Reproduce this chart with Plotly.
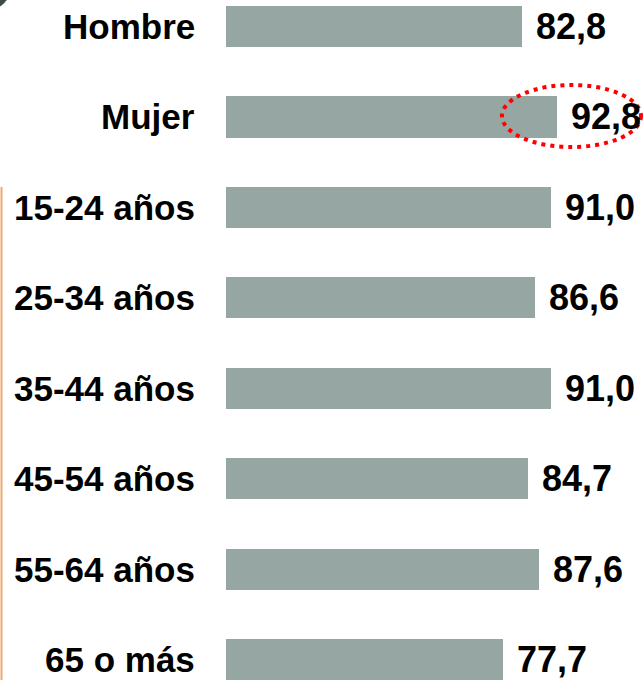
import plotly.graph_objects as go

categories = ["Hombre", "Mujer", "15-24 años", "25-34 años", "35-44 años",
              "45-54 años", "55-64 años", "65 o más"]
values = [82.8, 92.8, 91.0, 86.6, 91.0, 84.7, 87.6, 77.7]
value_labels = ["82,8", "92,8", "91,0", "86,6", "91,0", "84,7", "87,6", "77,7"]

W, H = 644, 680
BAR_COLOR = "#95A6A3"
FONT = "Arial, 'Liberation Sans', sans-serif"

fig = go.Figure()
fig.add_trace(go.Bar(
    x=values, y=categories, orientation="h",
    marker=dict(color=BAR_COLOR, line=dict(width=0)),
    width=0.455, hoverinfo="skip",
))

annotations = []
for c, v, t in zip(categories, values, value_labels):
    annotations.append(dict(
        x=v, y=c, xref="x", yref="y", text=t, showarrow=False,
        xanchor="left", yanchor="middle", xshift=12,
        font=dict(family=FONT, size=36, color="black", weight="bold"),
    ))
    annotations.append(dict(
        x=197 / W, y=c, xref="paper", yref="y", text=c, showarrow=False,
        xanchor="right", yanchor="middle",
        font=dict(family=FONT, size=35, color="black", weight="bold"),
    ))

shapes = [
    # dark disc in the top-left corner
    dict(type="circle", xref="paper", yref="paper",
         x0=-60 / W, x1=15 / W, y0=1 - 14 / H, y1=1 + 60 / H,
         fillcolor="#3D4B49", line=dict(width=0), layer="above"),
    # orange vertical line on the left edge
    dict(type="line", xref="paper", yref="paper",
         x0=1.5 / W, x1=1.5 / W, y0=0, y1=1 - 187 / H,
         line=dict(color="#F2A66A", width=2)),
    # red dotted ellipse around the Mujer value
    dict(type="circle", xref="paper", yref="paper",
         x0=502 / W, x1=641 / W, y0=1 - 147 / H, y1=1 - 85 / H,
         line=dict(color="#FF0000", width=4, dash="4px,5px"), layer="above"),
]

zero_px = 226
scale = 3.57
x_max = (W - zero_px) / scale
row = 90.43
first_center = 26.5

fig.update_layout(
    width=W, height=H,
    margin=dict(l=0, r=0, t=0, b=0),
    paper_bgcolor="white", plot_bgcolor="white",
    showlegend=False, bargap=0,
    xaxis=dict(domain=[zero_px / W, 1], range=[0, x_max],
               visible=False, fixedrange=True),
    yaxis=dict(type="category", categoryorder="array", categoryarray=categories,
               range=[(H - first_center) / row, -first_center / row],
               visible=False, fixedrange=True),
    annotations=annotations,
    shapes=shapes,
)

fig.write_html(
    "out.html",
    config={"displayModeBar": False},
    post_script="document.body.style.margin='0';document.body.style.overflow='hidden';",
)
